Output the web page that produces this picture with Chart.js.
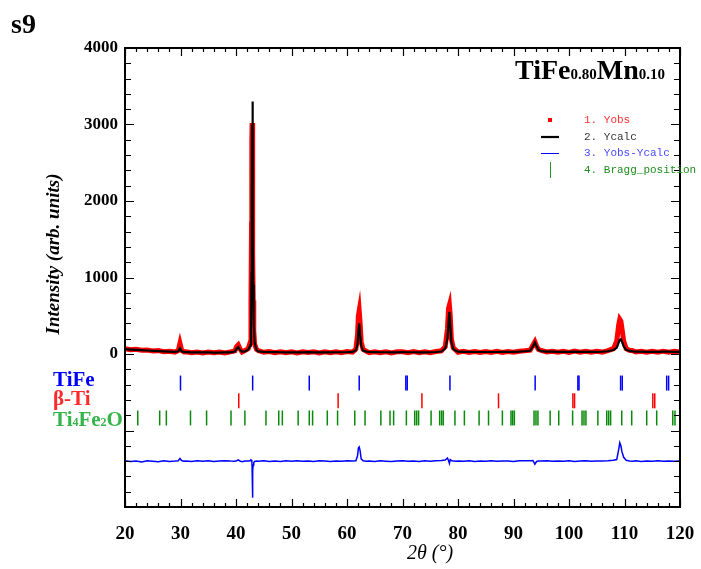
<!DOCTYPE html>
<html>
<head>
<meta charset="utf-8">
<script src="https://cdn.jsdelivr.net/npm/chart.js@4.4.1/dist/chart.umd.min.js"></script>
<style>
  html, body { margin: 0; padding: 0; background: #fff; }
  canvas { display: block; }
</style>
</head>
<body>
<canvas id="xrd" width="701" height="569"></canvas>
<script>
/* XRD Rietveld plot — TiFe0.80Mn0.10 (s9)
   profile values */

// ─── Profile (shared 2θ grid) ───────────────────────────
const twoTheta = [
    20, 21, 22, 23, 24, 25, 26, 27, 28, 29,
    29.6, 29.9, 30.2, 30.6,
    31, 32, 33, 34, 35, 36, 37, 38, 39,
    39.8, 40.1, 40.4, 40.7, 41.1, 41.6,
    42.2, 42.55, 42.7, 42.8, 42.85, 42.9, 42.95, 43.0, 43.05, 43.1, 43.2, 43.35, 43.7,
    44, 45, 46, 47, 48, 49, 50, 51, 52, 53, 54, 55, 56, 57, 58, 59, 60, 61,
    61.6, 61.9, 62.05, 62.2, 62.35, 62.55, 62.9, 63.5,
    64, 65, 66, 67, 68, 69, 70, 71, 72, 73, 74, 75, 76, 77,
    77.7, 78.1, 78.3, 78.45, 78.6, 78.8, 79.15, 79.7,
    80, 81, 82, 83, 84, 85, 86, 87, 88, 89, 90, 91, 92, 93,
    93.5, 93.85, 94.15, 94.5,
    95, 96, 97, 98, 99, 100, 101, 102, 103, 104, 105, 106, 107, 108,
    108.6, 108.95, 109.15, 109.35, 109.55, 109.85, 110.3, 110.9,
    111.5, 112, 113, 114, 115, 116, 117, 118, 119, 120,
];

const yObs = [
    70, 55, 62, 48, 52, 40, 44, 30, 35, 25,
    45, 140, 50, 28,
    30, 18, 26, 15, 27, 16, 25, 14, 28,
    40, 95, 118, 70, 26, 45,
    70, 150, 650, 1700, 2800, 3020, 2750, 2100, 1300, 700, 300, 130, 60,
    45, 22, 32, 18, 30, 16, 28, 15, 30, 20, 28, 14, 30, 17, 29, 18, 32, 24,
    65, 250, 500, 566, 420, 160, 60, 36,
    18, 30, 16, 29, 15, 28, 30, 17, 31, 16, 29, 18, 33, 42,
    95, 330, 600, 640, 500, 200, 80, 45,
    22, 34, 20, 33, 19, 32, 20, 34, 21, 33, 22, 36, 42, 50,
    115, 160, 105, 60,
    46, 26, 36, 22, 35, 21, 37, 23, 34, 22, 36, 25, 44, 70,
    170, 380, 453, 430, 330, 170, 70, 48,
    42, 26, 36, 22, 35, 23, 37, 24, 36, 25,
];

const yCalc = [
    62, 58, 54, 50, 46, 42, 38, 34, 30, 27,
    35, 75, 35, 25,
    24, 22, 21, 20, 20, 19, 19, 20, 22,
    32, 65, 90, 55, 30, 35,
    55, 110, 330, 1050, 2000, 3000, 3300, 2600, 1600, 900, 400, 150, 55,
    35, 28, 25, 24, 23, 22, 22, 22, 22, 24, 22, 22, 22, 22, 23, 23, 24, 28,
    50, 130, 300, 400, 260, 110, 45, 30,
    26, 24, 23, 23, 22, 22, 24, 23, 23, 22, 22, 23, 26, 33,
    70, 200, 420, 550, 380, 160, 65, 38,
    30, 28, 27, 26, 26, 26, 26, 26, 27, 27, 28, 30, 36, 42,
    100, 150, 105, 55,
    38, 32, 30, 29, 28, 28, 30, 29, 28, 28, 29, 31, 36, 52,
    80, 150, 185, 192, 160, 100, 55, 40,
    34, 32, 30, 29, 29, 29, 31, 31, 29, 29,
];

// Yobs - Ycalc, as plotted (shifted down)
const yDiff = [
    -1395, -1405, -1398, -1410, -1395, -1402, -1408, -1396, -1404, -1400,
    -1395, -1365, -1392, -1402,
    -1398, -1405, -1396, -1402, -1397, -1404, -1399, -1395, -1400,
    -1402, -1395, -1385, -1398, -1408, -1400,
    -1398, -1395, -1385, -1390, -1395, -1480, -1880, -1720, -1530, -1450, -1420, -1405, -1400,
    -1402, -1396, -1404, -1399, -1405, -1397, -1401, -1395, -1403, -1398, -1404, -1396, -1400, -1406, -1398, -1402, -1396, -1400,
    -1395, -1330, -1230, -1215, -1260, -1370, -1395, -1402,
    -1400, -1404, -1397, -1401, -1406, -1398, -1394, -1402, -1399, -1405, -1397, -1401, -1396, -1392,
    -1385, -1360, -1395, -1430, -1380, -1392, -1400, -1403,
    -1398, -1402, -1396, -1404, -1399, -1401, -1395, -1403, -1398, -1400, -1404, -1397, -1396, -1395,
    -1392, -1440, -1405, -1400,
    -1400, -1396, -1403, -1398, -1401, -1397, -1404, -1399, -1395, -1402, -1398, -1400, -1396, -1390,
    -1380, -1250, -1160, -1200, -1280, -1350, -1390, -1398,
    -1401, -1396, -1404, -1398, -1402, -1396, -1401, -1399, -1403, -1400,
];

// ─── Bragg positions (2θ) ───────────────────────────────
const braggTiFe = [30.0, 43.0, 53.2, 62.2, 70.6, 70.85, 78.55, 93.9, 101.6, 101.8, 109.3, 109.6, 117.6, 117.95];
const braggBetaTi = [40.5, 58.4, 73.5, 87.3, 100.7, 101.0, 115.1, 115.45];
const braggTi4Fe2O = [
    22.3, 26.25, 27.45, 31.8, 34.7, 39.1, 41.6, 45.4, 47.7, 48.35, 51.2, 53.2, 53.8,
    56.45, 58.3, 61.4, 63.25, 66.1, 67.75, 68.4, 70.7, 72.2, 72.55, 72.9, 75.15,
    76.7, 77.05, 77.35, 79.45, 81.15, 83.8, 85.5, 88.0, 89.55, 89.85, 90.15, 93.7,
    94.05, 94.4, 96.6, 98.15, 100.65, 102.35, 102.7, 103.05, 105.2, 106.8, 107.15,
    107.5, 109.5, 111.3, 114.0, 115.8, 118.7, 119.1,
];

// y level of each tick row
const ROW_TIFE = -380;
const ROW_BETA = -612;
const ROW_TI4 = -836;

const SERIF = '"Liberation Serif", "Times New Roman", serif';
const MONO = '"Liberation Mono", "Courier New", monospace';

const pts = (xs, ys) => xs.map((x, i) => ({ x, y: ys[i] }));
const row = (xs, y) => xs.map(x => ({ x, y }));

// ─── Decorations: frame, inward ticks, labels, legend ───
const decorPlugin = {
    id: 'decor',
    afterDraw(chart) {
        const { ctx, chartArea: a, scales: { x, y } } = chart;
        ctx.save();
        ctx.strokeStyle = '#000';

        // ticks
        ctx.lineWidth = 1.2;
        ctx.beginPath();
        for (let v = 20; v <= 120; v += 2) {
            const px = Math.round(x.getPixelForValue(v)) + 0.5;
            const len = v % 10 === 0 ? 8 : 4;
            ctx.moveTo(px, a.bottom); ctx.lineTo(px, a.bottom - len);
            ctx.moveTo(px, a.top); ctx.lineTo(px, a.top + len);
        }
        for (let v = -2000; v <= 4000; v += 200) {
            const py = Math.round(y.getPixelForValue(v)) + 0.5;
            const len = v % 1000 === 0 ? 9 : 6;
            ctx.moveTo(a.left, py); ctx.lineTo(a.left + len, py);
            ctx.moveTo(a.right, py); ctx.lineTo(a.right - len, py);
        }
        ctx.stroke();

        // frame
        ctx.lineWidth = 2;
        ctx.strokeRect(a.left, a.top, a.right - a.left, a.bottom - a.top);

        // panel tag
        ctx.fillStyle = '#000';
        ctx.textBaseline = 'alphabetic';
        ctx.textAlign = 'left';
        ctx.font = `bold 28px ${SERIF}`;
        ctx.fillText('s9', 11, 33);

        // composition title with subscripts
        let tx = 515;
        const parts = [['TiFe', 28], ['0.80', 15], ['Mn', 28], ['0.10', 15]];
        parts.forEach(([t, s]) => {
            ctx.font = `bold ${s}px ${SERIF}`;
            ctx.fillText(t, tx, 79);
            tx += ctx.measureText(t).width;
        });

        // axis titles
        ctx.textAlign = 'center';
        ctx.textBaseline = 'middle';
        ctx.font = `italic 20px ${SERIF}`;
        ctx.fillText('2θ (°)', 430, 554);

        ctx.save();
        ctx.translate(54, 254);
        ctx.rotate(-Math.PI / 2);
        ctx.font = `bold italic 19px ${SERIF}`;
        ctx.fillText('Intensity (arb. units)', 0, 0);
        ctx.restore();

        // phase labels
        ctx.textAlign = 'left';
        ctx.textBaseline = 'alphabetic';
        ctx.font = `bold 21px ${SERIF}`;
        ctx.fillStyle = '#0000ff';
        ctx.fillText('TiFe', 53, 386);
        ctx.fillStyle = '#ff2a2a';
        ctx.fillText('β-Ti', 53, 405);
        ctx.fillStyle = '#35b54a';
        let lx = 53;
        [['Ti', 21], ['4', 12], ['Fe', 21], ['2', 12], ['O', 21]].forEach(([t, s]) => {
            ctx.font = `bold ${s}px ${SERIF}`;
            ctx.fillText(t, lx, 426);
            lx += ctx.measureText(t).width;
        });

        // legend
        const lgX = 550, txtX = 584;
        const rows = [120, 137, 153, 170];
        ctx.fillStyle = '#ff0000';
        ctx.fillRect(lgX - 2, rows[0] - 2, 4, 4);
        ctx.strokeStyle = '#000';
        ctx.lineWidth = 2.2;
        ctx.beginPath(); ctx.moveTo(lgX - 9, rows[1]); ctx.lineTo(lgX + 9, rows[1]); ctx.stroke();
        ctx.strokeStyle = '#0000ff';
        ctx.lineWidth = 1;
        ctx.beginPath(); ctx.moveTo(lgX - 9, rows[2] + 0.5); ctx.lineTo(lgX + 9, rows[2] + 0.5); ctx.stroke();
        ctx.strokeStyle = '#2a9a2a';
        ctx.beginPath(); ctx.moveTo(lgX + 0.5, rows[3] - 8); ctx.lineTo(lgX + 0.5, rows[3] + 8); ctx.stroke();

        ctx.font = `11px ${MONO}`;
        ctx.textBaseline = 'middle';
        const labels = [
            ['1. Yobs', '#ff3030'],
            ['2. Ycalc', '#333333'],
            ['3. Yobs-Ycalc', '#4a4aff'],
            ['4. Bragg_position', '#1f8f1f'],
        ];
        labels.forEach(([t, c], i) => {
            ctx.fillStyle = c;
            ctx.fillText(t, txtX, rows[i]);
        });

        ctx.restore();
    }
};

const braggSet = (xs, level, color) => ({
    data: row(xs, level),
    showLine: false,
    pointStyle: 'line',
    rotation: 90,
    radius: 7.5,
    borderColor: color,
    borderWidth: 1.5,
    order: 3,
});

new Chart(document.getElementById('xrd'), {
    type: 'scatter',
    data: {
        datasets: [
            {
                label: 'Ycalc',
                data: pts(twoTheta, yCalc),
                showLine: true,
                borderColor: '#000',
                borderWidth: 2.2,
                pointRadius: 0,
                order: 0,
            },
            {
                label: 'Yobs',
                data: pts(twoTheta, yObs),
                showLine: true,
                borderColor: '#ff0000',
                borderWidth: 5,
                pointRadius: 0,
                order: 1,
            },
            {
                label: 'Yobs-Ycalc',
                data: pts(twoTheta, yDiff),
                showLine: true,
                borderColor: '#0000ff',
                borderWidth: 1.5,
                pointRadius: 0,
                order: 2,
            },
            braggSet(braggTiFe, ROW_TIFE, '#0000ff'),
            braggSet(braggBetaTi, ROW_BETA, '#ff0000'),
            braggSet(braggTi4Fe2O, ROW_TI4, '#0a8a0a'),
        ],
    },
    options: {
        responsive: false,
        devicePixelRatio: 1,
        animation: false,
        events: [],
        layout: { padding: { left: 0, right: 21, top: 48, bottom: 0 } },
        plugins: {
            legend: { display: false },
            tooltip: { enabled: false },
        },
        scales: {
            x: {
                type: 'linear',
                min: 20,
                max: 120,
                afterFit: s => { s.height = 62; s.paddingLeft = 0; s.paddingRight = 0; },
                grid: { display: false, drawTicks: false },
                border: { display: false },
                ticks: {
                    stepSize: 10,
                    padding: 16,
                    color: '#000',
                    font: { family: SERIF, size: 19, weight: 'bold' },
                },
            },
            y: {
                type: 'linear',
                min: -2000,
                max: 4000,
                afterFit: s => { s.width = 125; s.paddingTop = 0; s.paddingBottom = 0; },
                grid: { display: false, drawTicks: false },
                border: { display: false },
                ticks: {
                    stepSize: 1000,
                    padding: 7,
                    color: '#000',
                    font: { family: SERIF, size: 17, weight: 'bold' },
                    callback: v => (v >= 0 ? v : ''),
                },
            },
        },
    },
    plugins: [decorPlugin],
});
</script>
</body>
</html>
